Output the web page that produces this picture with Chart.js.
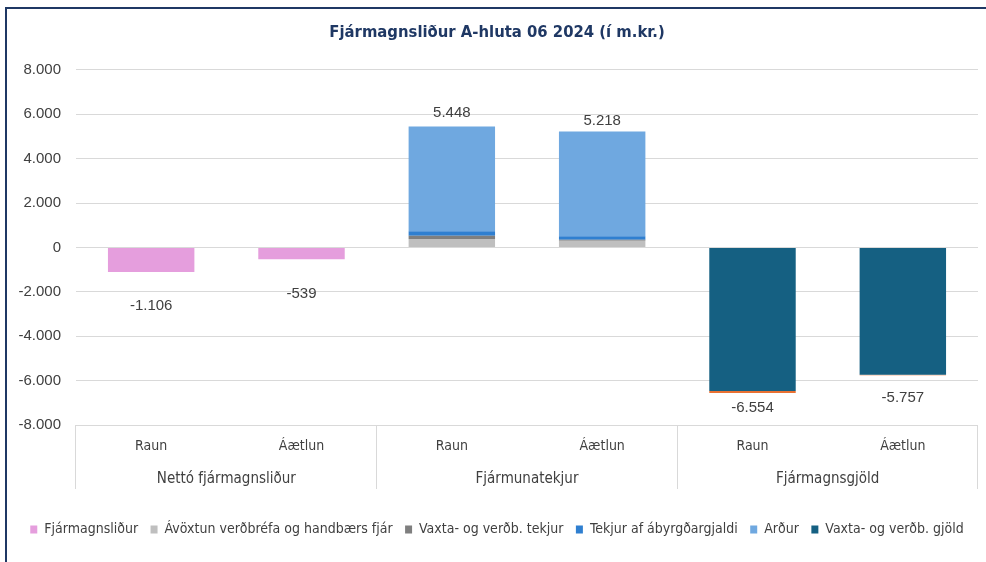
<!DOCTYPE html>
<html lang="is">
<head>
  <meta charset="UTF-8">
  <title>Fjármagnsliður A-hluta</title>
  <script src="https://cdn.jsdelivr.net/npm/chart.js"></script>
  <style>
    html, body {
      margin: 0;
      padding: 0;
      background: #fff;
      overflow: hidden;
    }

    .wrap {
      position: relative;
      width: 986px;
      height: 562px;
    }

    /* rammi utan um myndritið (hægri og neðri brún utan glugga) */
    .frame {
      position: absolute;
      left: 5px;
      top: 7px;
      width: 1100px;
      height: 700px;
      border: 2px solid #1f3864;
      pointer-events: none;
    }
  </style>
</head>
<body>
<div class="wrap">
  <canvas id="chart" width="986" height="562"></canvas>
  <div class="frame"></div>
</div>

<script>
  // flokkar á x-ási
  const categories = ['Raun', 'Áætlun', 'Raun', 'Áætlun', 'Raun', 'Áætlun'];
  const groups = ['Nettó fjármagnsliður', 'Fjármunatekjur', 'Fjármagnsgjöld'];
  const yTicks = [-8000, -6000, -4000, -2000, 0, 2000, 4000, 6000, 8000];

  // gildi í m.kr.
  const fjarmagnslidur = [-1106, -539, 0, 0, 0, 0];
  const avoxtun = [0, 0, 380, 300, 0, 0];
  const vaxtaTekjur = [0, 0, 150, 50, 0, 0];
  const abyrgdargjald = [0, 0, 195, 150, 0, 0];
  const ardur = [0, 0, 4723, 4718, 0, 0];
  const vaxtaGjold = [0, 0, 0, 0, -6464, -5737];
  const annadGjold = [0, 0, 0, 0, -90, -20];

  // lóðrétt hliðrun samtalsmerkja (px)
  const totalLabelShift = [34, 34, -14, -11, 15, 23];

  const narrow = '"Liberation Sans Narrow", "DejaVu Sans Condensed", "Roboto Condensed", Roboto, sans-serif';
  const plain = '"Liberation Sans", Arial, sans-serif';

  const fmt = v => (v < 0 ? '-' : '') + Math.abs(Math.round(v)).toString().replace(/\B(?=(\d{3})+(?!\d))/g, '.');

  const series = [
    { label: 'Fjármagnsliður', data: fjarmagnslidur, backgroundColor: '#e59edd' },
    { label: 'Ávöxtun verðbréfa og handbærs fjár', data: avoxtun, backgroundColor: '#bfbfbf' },
    { label: 'Vaxta- og verðb. tekjur', data: vaxtaTekjur, backgroundColor: '#7f7f7f' },
    { label: 'Tekjur af ábyrgðargjaldi', data: abyrgdargjald, backgroundColor: '#2f7fd0' },
    { label: 'Arður', data: ardur, backgroundColor: '#6fa8e0' },
    { label: 'Vaxta- og verðb. gjöld', data: vaxtaGjold, backgroundColor: '#156082' },
    { label: 'Annar fjármagnskostnaður', data: annadGjold, backgroundColor: '#e97132' }
  ];

  // samtölur ofan/neðan við hverja súlu
  const totalsPlugin = {
    id: 'totals',
    afterDatasetsDraw(chart) {
      const { ctx, scales } = chart;
      ctx.save();
      ctx.font = '15px ' + plain;
      ctx.fillStyle = '#404040';
      ctx.textAlign = 'center';
      ctx.textBaseline = 'middle';
      categories.forEach((c, i) => {
        const total = series.reduce((s, d) => s + d.data[i], 0);
        const x = scales.x.getPixelForValue(i);
        const y = scales.y.getPixelForValue(total) + totalLabelShift[i];
        ctx.fillText(fmt(total), x, y);
      });
      ctx.restore();
    }
  };

  new Chart(document.getElementById('chart'), {
    type: 'bar',
    data: {
      labels: categories,
      datasets: series.map(s => ({
        ...s,
        borderWidth: 0,
        barPercentage: 0.575,
        categoryPercentage: 1
      }))
    },
    options: {
      responsive: false,
      animation: false,
      layout: { padding: { left: 16, right: 8, top: 0, bottom: 15.5 } },
      plugins: {
        title: {
          display: true,
          text: 'Fjármagnsliður A-hluta 06 2024 (í m.kr.)',
          color: '#1f3864',
          font: { family: narrow, size: 16.5, weight: 'bold' },
          padding: { top: 23, bottom: 27 }
        },
        legend: {
          position: 'bottom',
          labels: {
            filter: item => item.datasetIndex < 6,
            boxWidth: 7,
            boxHeight: 8,
            padding: 12.5,
            color: '#404040',
            font: { family: narrow, size: 14 }
          }
        },
        tooltip: { enabled: false }
      },
      scales: {
        x: {
          stacked: true,
          grid: {
            display: true,
            drawOnChartArea: false,
            drawTicks: true,
            tickLength: 64,
            offset: true,
            color: c => (c.index === undefined || c.index % 2 === 0) ? '#d9d9d9' : 'rgba(0,0,0,0)'
          },
          border: { display: false },
          ticks: {
            padding: -51,
            color: '#404040',
            font: { family: narrow, size: 14 }
          },
          afterFit: s => { s.height = 40; }
        },
        x2: {
          type: 'category',
          position: 'bottom',
          labels: groups,
          grid: { display: false },
          border: { display: false },
          ticks: {
            padding: -2.5,
            color: '#404040',
            font: { family: narrow, size: 15 }
          },
          afterFit: s => { s.height = 45; }
        },
        y: {
          stacked: true,
          min: -8000,
          max: 8000,
          afterBuildTicks: s => { s.ticks = yTicks.map(v => ({ value: v })); },
          grid: { color: '#d9d9d9', drawTicks: false },
          border: { display: false },
          ticks: {
            padding: 15,
            color: '#404040',
            font: { family: plain, size: 15 },
            callback: v => fmt(v)
          },
          afterFit: s => { s.width = 60; }
        }
      }
    },
    plugins: [totalsPlugin]
  });
</script>
</body>
</html>
